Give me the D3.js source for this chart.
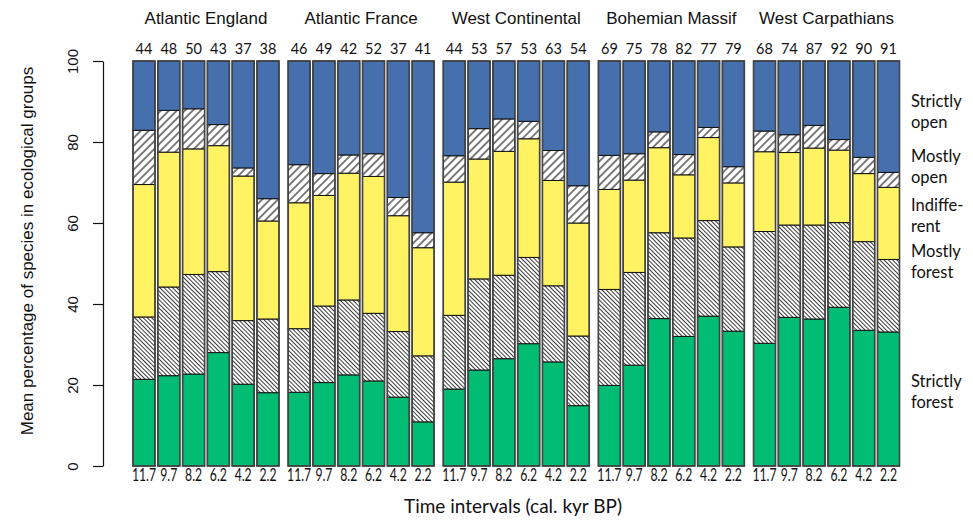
<!DOCTYPE html>
<html>
<head>
<meta charset="utf-8">
<script src="https://cdn.jsdelivr.net/npm/d3@7"></script>
<style>
  body { margin: 0; background: #fff; }
  svg { display: block; }
</style>
</head>
<body>
<svg id="chart" width="973" height="524"></svg>
<script>
// Regions (panels) and time intervals (bars within each panel)
const regions = ["Atlantic England", "Atlantic France", "West Continental", "Bohemian Massif", "West Carpathians"];
const intervals = ["11.7", "9.7", "8.2", "6.2", "4.2", "2.2"];

// Number of species per region and interval (printed above the bars)
const speciesCounts = [
  [44, 48, 50, 43, 37, 38],
  [46, 49, 42, 52, 37, 41],
  [44, 53, 57, 53, 63, 54],
  [69, 75, 78, 82, 77, 79],
  [68, 74, 87, 92, 90, 91]
];

// Mean percentage of species in each ecological group, [region][interval]
const strictlyForest = [
  [21.4, 22.3, 22.7, 28.0, 20.2, 18.1],
  [18.2, 20.6, 22.5, 21.0, 17.0, 10.9],
  [19.0, 23.7, 26.5, 30.2, 25.7, 14.9],
  [19.9, 24.9, 36.4, 32.0, 37.0, 33.3],
  [30.3, 36.7, 36.3, 39.2, 33.5, 33.1]
];
const mostlyForest = [
  [15.4, 21.9, 24.6, 20.0, 15.7, 18.2],
  [15.7, 18.9, 18.5, 16.7, 16.2, 16.3],
  [18.2, 22.5, 20.6, 21.3, 18.8, 17.2],
  [23.7, 22.9, 21.2, 24.3, 23.6, 20.8],
  [27.6, 22.8, 23.2, 20.9, 21.9, 17.9]
];
const indifferent = [
  [32.7, 33.3, 31.0, 31.1, 35.7, 24.2],
  [31.1, 27.3, 31.3, 33.8, 28.6, 26.7],
  [32.9, 29.6, 30.6, 29.3, 26.0, 27.9],
  [24.7, 22.8, 21.0, 15.6, 20.5, 15.8],
  [19.7, 17.9, 19.0, 17.9, 16.8, 17.8]
];
const mostlyOpen = [
  [13.4, 10.3, 9.9, 5.2, 2.0, 5.5],
  [9.4, 5.4, 4.5, 5.6, 4.5, 3.7],
  [6.5, 7.5, 8.0, 4.3, 7.4, 9.2],
  [8.4, 6.5, 3.9, 5.0, 2.5, 4.0],
  [5.1, 4.4, 5.6, 2.6, 4.0, 3.7]
];
const strictlyOpen = [
  [17.1, 12.2, 11.8, 15.7, 26.4, 34.0],
  [25.6, 27.8, 23.2, 22.9, 33.7, 42.4],
  [23.4, 16.7, 14.3, 14.9, 22.1, 30.8],
  [23.3, 22.9, 17.5, 23.1, 16.4, 26.1],
  [17.3, 18.2, 15.9, 19.4, 23.8, 27.5]
];

// Group names (bottom to top) and the right-hand labels
const groupKeys = ["strictlyForest", "mostlyForest", "indifferent", "mostlyOpen", "strictlyOpen"];
const groupLabels = [["Strictly", "forest"], ["Mostly", "forest"], ["Indiffe-", "rent"], ["Mostly", "open"], ["Strictly", "open"]];
const yTicks = [0, 20, 40, 60, 80, 100];

const groupData = { strictlyForest, mostlyForest, indifferent, mostlyOpen, strictlyOpen };

// ---- layout ----
const svg = d3.select("#chart");
const plotTop = 61, plotBottom = 466;
const panelLeft = 133, panelRight = 899.5;
const axisX = 103;
// label anchor heights on the percentage scale
const labelLevels = [18.3, 50.4, 61.7, 73.9, 87.4];

const y = d3.scaleLinear().domain([0, 100]).range([plotBottom, plotTop]);
const xPanel = d3.scaleBand().domain(regions).range([panelLeft, panelRight]).paddingInner(0.059).paddingOuter(0);
const xBar = d3.scaleBand().domain(intervals).range([0, xPanel.bandwidth()]).paddingInner(0.113).paddingOuter(0);

const fills = {
  strictlyForest: "#00bd73",
  mostlyForest: "url(#hatchForest)",
  indifferent: "#fff263",
  mostlyOpen: "url(#hatchOpen)",
  strictlyOpen: "#4670ad"
};

// ---- hatch patterns ----
const defs = svg.append("defs");
function hatch(id, spacing, angle, width) {
  const p = defs.append("pattern")
    .attr("id", id)
    .attr("patternUnits", "userSpaceOnUse")
    .attr("width", spacing)
    .attr("height", spacing)
    .attr("patternTransform", `rotate(${angle})`);
  p.append("rect").attr("width", spacing).attr("height", spacing).attr("fill", "#fff");
  p.append("line")
    .attr("x1", spacing / 2).attr("x2", spacing / 2)
    .attr("y1", 0).attr("y2", spacing)
    .attr("stroke", "#3a3a3a").attr("stroke-width", width);
}
hatch("hatchOpen", 5.6, 45, 1.3);
hatch("hatchForest", 3.0, -45, 1.0);

// ---- stacked bars ----
const stack = d3.stack().keys(groupKeys);

regions.forEach((region, r) => {
  const rows = intervals.map((iv, i) => {
    const row = { interval: iv, count: speciesCounts[r][i] };
    groupKeys.forEach(k => { row[k] = groupData[k][r][i]; });
    return row;
  });
  const series = stack(rows);
  const g = svg.append("g").attr("transform", `translate(${xPanel(region)},0)`);

  series.forEach(s => {
    g.selectAll(null)
      .data(s)
      .join("rect")
      .attr("x", d => xBar(d.data.interval))
      .attr("y", d => y(d[1]))
      .attr("width", xBar.bandwidth())
      .attr("height", d => y(d[0]) - y(d[1]))
      .attr("fill", fills[s.key])
      .attr("stroke", "#111")
      .attr("stroke-width", 1);
  });

  // bar outlines
  g.selectAll(null)
    .data(rows)
    .join("rect")
    .attr("x", d => xBar(d.interval))
    .attr("y", y(100))
    .attr("width", xBar.bandwidth())
    .attr("height", y(0) - y(100))
    .attr("fill", "none")
    .attr("stroke", "#444")
    .attr("stroke-width", 1.6);

  // species counts above bars
  g.selectAll(null)
    .data(rows)
    .join("text")
    .attr("x", d => xBar(d.interval) + xBar.bandwidth() / 2)
    .attr("y", 54)
    .attr("text-anchor", "middle")
    .attr("font-family", "Lato, sans-serif")
    .attr("font-size", 14.5)
    .attr("fill", "#111")
    .text(d => d.count);

  // interval labels under bars
  g.selectAll(null)
    .data(rows)
    .join("text")
    .attr("transform", d => `translate(${xBar(d.interval) + xBar.bandwidth() / 2},481) scale(0.74,1)`)
    .attr("text-anchor", "middle")
    .attr("font-family", "Lato, sans-serif")
    .attr("font-size", 16.5)
    .attr("fill", "#111")
    .text(d => d.interval);

  // region title
  g.append("text")
    .attr("x", xPanel.bandwidth() / 2)
    .attr("y", 24)
    .attr("text-anchor", "middle")
    .attr("font-family", "'Liberation Sans', Arial, sans-serif")
    .attr("font-size", 17)
    .attr("fill", "#111")
    .text(region);
});

// ---- y axis ----
const yAxis = d3.axisLeft(y).tickValues(yTicks).tickSize(10).tickSizeOuter(0).tickPadding(0);
const ax = svg.append("g").attr("transform", `translate(${axisX},0)`).call(yAxis);
ax.select(".domain").attr("stroke", "#111").attr("stroke-width", 1.2);
ax.selectAll(".tick line").attr("stroke", "#111").attr("stroke-width", 1.2);
ax.selectAll(".tick text")
  .attr("x", 0).attr("dy", null)
  .attr("transform", "translate(-31,0) rotate(-90)")
  .attr("text-anchor", "middle")
  .attr("dominant-baseline", "central")
  .attr("font-family", "'Liberation Sans', Arial, sans-serif")
  .attr("font-size", 15)
  .attr("fill", "#111");

svg.append("text")
  .attr("transform", "translate(33,251) rotate(-90)")
  .attr("text-anchor", "middle")
  .attr("font-family", "'Liberation Sans', Arial, sans-serif")
  .attr("font-size", 17)
  .attr("fill", "#111")
  .text("Mean percentage of species in ecological groups");

// ---- x axis title ----
svg.append("text")
  .attr("x", 513)
  .attr("y", 513)
  .attr("text-anchor", "middle")
  .attr("font-family", "Lato, sans-serif")
  .attr("font-size", 19)
  .attr("fill", "#111")
  .text("Time intervals (cal. kyr BP)");

// ---- group labels on the right ----
const lab = svg.append("g").attr("font-family", "Lato, sans-serif").attr("font-size", 16.5).attr("fill", "#111");
groupLabels.forEach((lines, k) => {
  const cy = y(labelLevels[k]);
  const t = lab.append("text").attr("x", 911).attr("y", cy - 5);
  t.append("tspan").attr("x", 911).attr("dy", 0).text(lines[0]);
  t.append("tspan").attr("x", 911).attr("dy", 21).text(lines[1]);
});
</script>
</body>
</html>
